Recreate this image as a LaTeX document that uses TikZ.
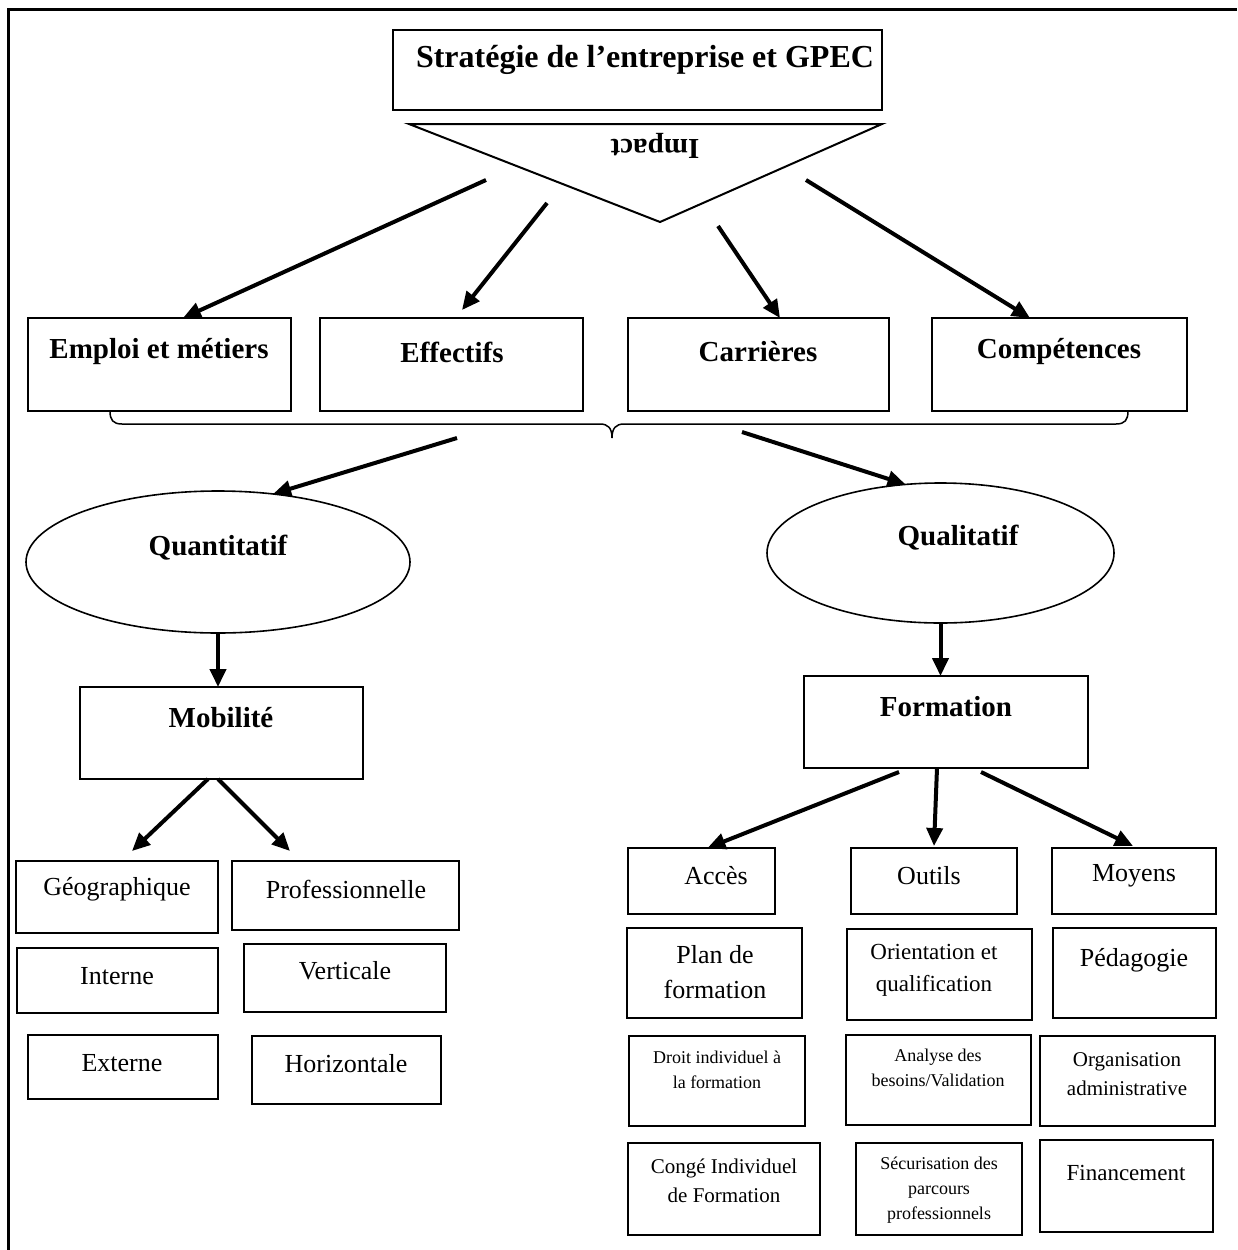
\documentclass[tikz,border=0pt]{standalone}
\usepackage{fontspec}
\setmainfont{Liberation Serif}
\usetikzlibrary{arrows.meta,shapes.geometric}
\newcommand\bx[5]{\node[box, minimum width={#4-#2}, minimum height={#5-#3}] (#1) at ({(#2+#4)/2},{(#3+#5)/2}) {};}
\begin{document}
\begin{tikzpicture}[x=1pt,y=-1pt,
  box/.style={draw, line width=1.6pt, inner sep=0pt, outer sep=0pt},
  ell/.style={draw, ellipse, line width=1.6pt, inner sep=0pt, outer sep=0pt},
  arr/.style={line width=4pt, -{Triangle[length=18pt,width=16pt]}},
  tT/.style={font=\fontsize{32}{38}\selectfont\bfseries},
  tH/.style={font=\fontsize{29}{34}\selectfont\bfseries},
  tA/.style={font=\fontsize{26}{35}\selectfont, align=center, inner sep=0pt},
  tB/.style={font=\fontsize{23}{32}\selectfont, align=center, inner sep=0pt},
  tC/.style={font=\fontsize{21}{29}\selectfont, align=center, inner sep=0pt},
  tD/.style={font=\fontsize{18}{25}\selectfont, align=center, inner sep=0pt}]
\useasboundingbox (0,0) rectangle (1237,1250);
% frame
\draw[line width=3pt] (8,1250) -- (8,9) -- (1237,9);
% top
\bx{top}{393}{30}{882}{110}
\node[tT] (ttop) at (645,60) {Stratégie de l’entreprise et GPEC};
\draw[line width=2pt] (409,124) -- (882,124) -- (660,222) -- cycle;
\node[tH, rotate=180] (impact) at (655,146) {Impact};
% row of four
\bx{emploi}{28}{318}{291}{411}
\bx{effectifs}{320}{318}{583}{411}
\bx{carrieres}{628}{318}{889}{411}
\bx{competences}{932}{318}{1187}{411}
\node[tH] (temploi) at (159,352) {Emploi et métiers};
\node[tH] (teffectifs) at (452,352) {Effectifs};
\node[tH] (tcarrieres) at (758,352) {Carrières};
\node[tH] (tcompetences) at (1059,352) {Compétences};
\coordinate (s1) at (486,180);
\coordinate (s2) at (547,203);
\coordinate (s3) at (718,226);
\coordinate (s4) at (806,180);
\draw[arr] (s1) -- ([xshift=23.5pt]emploi.north);
\draw[arr] (s2) -- ([xshift=10.5pt,yshift=8pt]effectifs.north);
\draw[arr] (s3) -- ([xshift=21.5pt]carrieres.north);
\draw[arr] (s4) -- ([xshift=-29.5pt]competences.north);
% brace
\draw[line width=1.5pt] (110,411) .. controls (110,420) and (113,424) .. (122,424) -- (600,424)
  .. controls (608,424) and (612,428) .. (612,438)
  .. controls (612,428) and (616,424) .. (624,424) -- (1116,424)
  .. controls (1125,424) and (1128,420) .. (1128,411);
% ellipses
\node[ell, minimum width=384, minimum height=142] (quant) at (218,562) {};
\node[ell, minimum width=347, minimum height=140] (qual) at (940.5,553) {};
\node[tH] (tquant) at (218,548) {Quantitatif};
\node[tH] (tqual) at (958,538) {Qualitatif};
\coordinate (s5) at (457,438);
\coordinate (s6) at (742,432);
\draw[arr] (s5) -- (quant.51.5);
\draw[arr] (s6) -- (qual.117);
% mobilite / formation
\bx{mobilite}{80}{687}{363}{779}
\bx{formation}{804}{676}{1088}{768}
\node[tH] (tmobilite) at (221,718) {Mobilité};
\node[tH] (tformation) at (946,707) {Formation};
\draw[arr] (quant.south) -- (quant.south |- mobilite.north);
\draw[arr] (qual.south) -- (qual.south |- formation.north);
% left bottom
\bx{geo}{16}{861}{218}{933}
\bx{prof}{232}{861}{459}{930}
\bx{interne}{17}{948}{218}{1013}
\bx{verticale}{244}{944}{446}{1012}
\bx{externe}{28}{1035}{218}{1099}
\bx{horizontale}{252}{1036}{441}{1104}
\node[tA] (tgeo) at (117,889) {Géographique};
\node[tA] (tprof) at (346,889) {Professionnelle};
\node[tA] (tinterne) at (117,976) {Interne};
\node[tA] (tverticale) at (345,971) {Verticale};
\node[tA] (texterne) at (122,1063) {Externe};
\node[tA] (thorizontale) at (346,1064) {Horizontale};
\draw[arr] ([xshift=-13.5pt]mobilite.south) -- ([xshift=15pt,yshift=10pt]geo.north);
\draw[arr] ([xshift=-3.5pt]mobilite.south) -- ([xshift=-55.5pt,yshift=10pt]prof.north);
% right bottom
\bx{acces}{628}{848}{775}{914}
\bx{outils}{851}{848}{1017}{914}
\bx{moyens}{1052}{848}{1216}{914}
\bx{plan}{627}{928}{802}{1018}
\bx{orient}{847}{929}{1032}{1020}
\bx{peda}{1053}{928}{1216}{1018}
\bx{droit}{629}{1036}{805}{1126}
\bx{analyse}{846}{1035}{1031}{1125}
\bx{organ}{1040}{1036}{1215}{1126}
\bx{conge}{628}{1143}{820}{1235}
\bx{secur}{856}{1143}{1022}{1235}
\bx{finan}{1040}{1140}{1213}{1232}
\node[tA] (tacces) at (716,876) {Accès};
\node[tA] (toutils) at (929,876) {Outils};
\node[tA] (tmoyens) at (1134,876) {Moyens};
\node[tA] (tplan) at (715,972) {Plan de\\formation};
\node[tB] (torient) at (934,970) {Orientation et\\qualification};
\node[tA] (tpeda) at (1134,960) {Pédagogie};
\node[tD] (tdroit) at (717,1070) {Droit individuel à\\la formation};
\node[tD] (tanalyse) at (938,1068) {Analyse des\\besoins/Validation};
\node[tC] (torgan) at (1127,1074) {Organisation\\administrative};
\node[tC] (tconge) at (724,1181) {Congé Individuel\\de Formation};
\node[tD] (tsecur) at (939,1190) {Sécurisation des\\parcours\\professionnels};
\node[tB] (tfinan) at (1126,1173) {Financement};
\draw[arr] ([xshift=-47pt,yshift=-4pt]formation.south) -- ([xshift=6pt]acces.north);
\draw[arr] ([xshift=-9pt]formation.south) -- ([xshift=0pt,yshift=2pt]outils.north);
\draw[arr] ([xshift=35pt,yshift=-4pt]formation.south) -- ([xshift=-1pt,yshift=2pt]moyens.north);
\end{tikzpicture}
\end{document}
